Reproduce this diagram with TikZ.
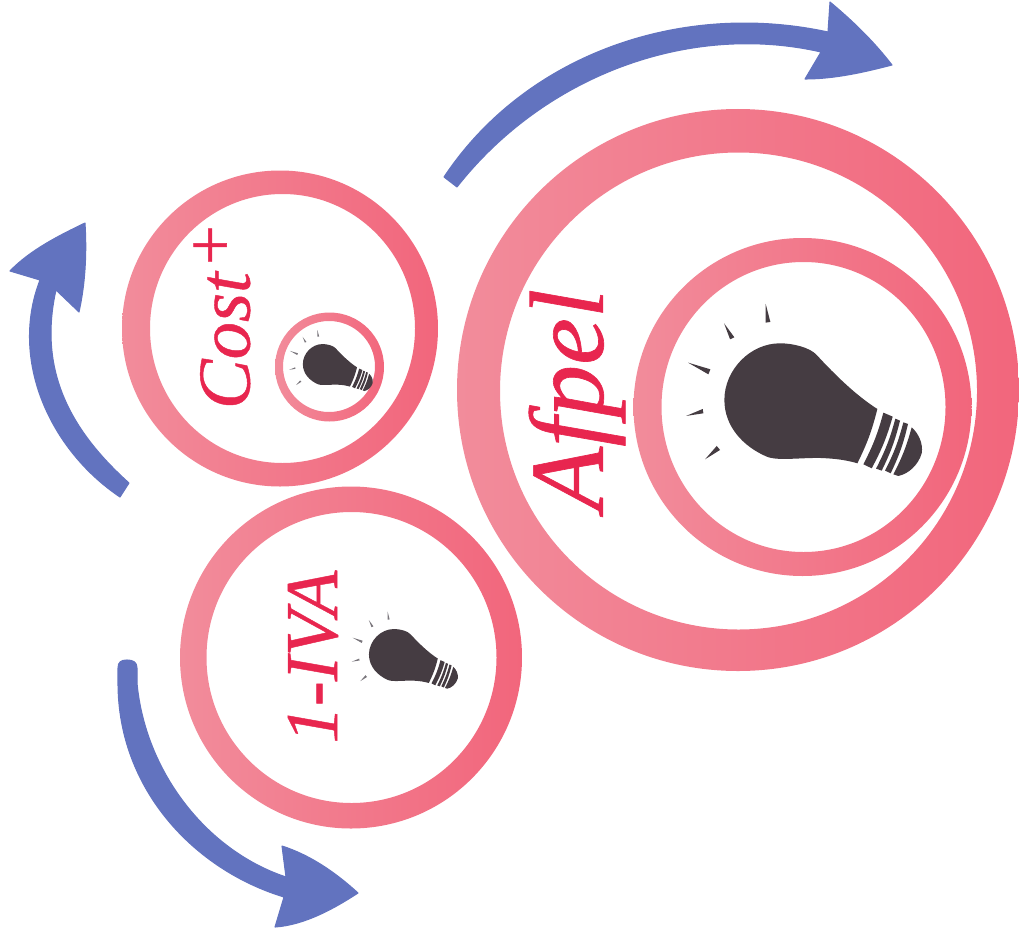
\documentclass[tikz,border=0pt]{standalone}
\usepackage{fontspec}
\setmainfont[ItalicFeatures={FakeBold=0.6}]{Liberation Serif}
\definecolor{ringl}{HTML}{F28C9B}
\definecolor{ringr}{HTML}{F2667C}
\definecolor{arrowblue}{HTML}{6273BF}
\definecolor{labelred}{HTML}{E8264F}
\definecolor{bulbdark}{HTML}{453C42}
\definecolor{raygrey}{HTML}{7A767C}
\tikzset{
  ring/.style={left color=ringl,right color=ringr,even odd rule},
  bluearrow/.style={fill=arrowblue,draw=arrowblue,line width=0.8pt,line join=round},
  ringlabel/.style={labelred,rotate=90,inner sep=0pt,font=\itshape},
  pics/bulb/.style={code={
    \fill[bulbdark] (212,17) .. controls (150,-22) and (85,-85) .. (30,-145) .. controls (10,-167) and (-40,-180) .. (-80,-180) .. controls (-170,-180) and (-247,-100) .. (-247,-10) .. controls (-247,70) and (-190,130) .. (-120,160) .. controls (-85,175) and (0,160) .. (60,165) .. controls (95,167) and (125,172) .. (152,180) to[bend right=6] cycle;
    \fill[bulbdark] (230,28) -- (258,40) to[bend left=6] (195,195) -- (170,183) to[bend right=6] cycle;
    \fill[bulbdark] (266,46) -- (280,52) to[bend left=6] (225,202) -- (208,196) to[bend right=6] cycle;
    \fill[bulbdark] (290,57) -- (304,62) to[bend left=6] (252,210) -- (235,202) to[bend right=6] cycle;
    \fill[bulbdark] (315,72) .. controls (335,90) and (350,120) .. (345,150) .. controls (335,185) and (305,212) .. (275,218) -- (260,213) to[bend right=6] cycle;
    \foreach \a/\b/\c in {{-123,-298}/{-123,-242}/{-109,-244},{-248,-240}/{-230,-192}/{-217,-198},{-356,-122}/{-295,-87}/{-289,-102},{-362,38}/{-310,30}/{-312,17},{-305,168}/{-260,140}/{-270,128}}
      \fill[#1] (\a) -- (\b) -- (\c) -- cycle;
  }}
}
\begin{document}
\begin{tikzpicture}[x=0.75pt,y=-0.75pt]
\useasboundingbox (0,0) rectangle (1019,938);
% rings
\shade[ring] (738,390) circle [radius=281] (738.5,391) circle [radius=238.5];
\shade[ring] (802.5,407) circle [radius=169] (803.5,407) ellipse [x radius=142,y radius=145];
\shade[ring] (280,328.5) circle [radius=158] (282.5,328.5) ellipse [x radius=132.5,y radius=134.5];
\shade[ring] (329.5,367) circle [radius=54.5] (329,366.5) ellipse [x radius=46,y radius=45.5];
\shade[ring] (351,657.5) circle [radius=171] (351.5,657.5) ellipse [x radius=145,y radius=145.5];
% bulbs
\pic[scale=0.3333] (bulbafpel) at (806.7,403.3) {bulb=bulbdark};
\pic[scale=0.118] (bulbcost) at (332,365.3) {bulb=raygrey};
\pic[scale=0.15] (bulbiva) at (406,656) {bulb=raygrey};
% labels
\node[ringlabel] (afpel) at (577,400) {\fontsize{79}{82}\selectfont Afpel};
\node[ringlabel] (cost) at (222,315.5) {\fontsize{56}{60}\selectfont Cost\kern2pt\raisebox{12pt}{\fontsize{53}{55}\selectfont +}};
\node[ringlabel] (iva) at (313,657) {\fontsize{56}{60}\selectfont 1-IVA};
% arrows
\draw[bluearrow] (444,177) .. controls (525,55) and (680,0) .. (828,32) -- (830,2) .. controls (860,27) and (878,47) .. (892,65) .. controls (865,72) and (835,79) .. (805,79) -- (821,52) .. controls (690,22) and (545,75) .. (457,187) -- cycle;
\draw[bluearrow] (120,497) .. controls (50,450) and (9,360) .. (40,280) -- (10,271) .. controls (30,250) and (60,235) .. (85,223) .. controls (87,255) and (85,285) .. (79,312) -- (56,290) .. controls (38,370) and (70,430) .. (129,483) -- cycle;
\draw[bluearrow] (118,683) .. controls (118,790) and (195,870) .. (284,897) -- (275,927) .. controls (305,925) and (335,908) .. (358,893) .. controls (335,872) and (310,855) .. (282,846) -- (286,877) .. controls (205,850) and (145,770) .. (137,683) -- (137,668) .. controls (137,662) and (133,660) .. (127,660) .. controls (121,660) and (118,662) .. (118,668) -- cycle;
\end{tikzpicture}
\end{document}
